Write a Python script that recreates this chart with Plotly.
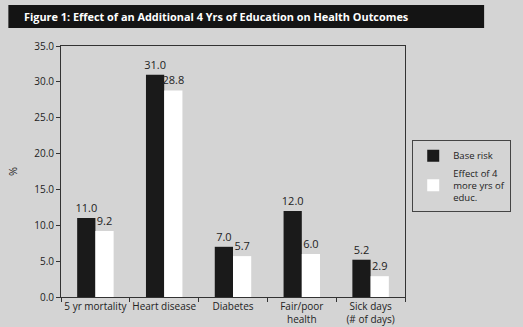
import plotly.graph_objects as go

categories = ["5 yr mortality", "Heart disease", "Diabetes", "Fair/poor<br>health", "Sick days<br>(# of days)"]
base_risk = [11.0, 31.0, 7.0, 12.0, 5.2]
effect = [9.2, 28.8, 5.7, 6.0, 2.9]
series_names = ["Base risk", "Effect of 4<br>more yrs of<br>educ."]
y_ticks = [0, 5, 10, 15, 20, 25, 30, 35]
title_text = "Figure 1: Effect of an Additional 4 Yrs of Education on Health Outcomes"

BG = "#d4d4d4"
FONT = "Open Sans"

fig = go.Figure()
fig.add_trace(go.Bar(x=categories, y=base_risk, name=series_names[0],
                     marker=dict(color="#1a1a1a", line=dict(width=0)),
                     text=[f"{v:.1f}" for v in base_risk], textposition="outside",
                     constraintext="none",
                     textfont=dict(size=11, color="#222", family=FONT), cliponaxis=False))
fig.add_trace(go.Bar(x=categories, y=effect, name=series_names[1],
                     marker=dict(color="#ffffff", line=dict(width=0)),
                     text=[f"{v:.1f}" for v in effect], textposition="outside",
                     constraintext="none",
                     textfont=dict(size=11, color="#222", family=FONT), cliponaxis=False))

fig.update_layout(
    width=523, height=327,
    margin=dict(l=61, r=84, t=46, b=30),
    paper_bgcolor=BG, plot_bgcolor=BG,
    font=dict(family=FONT, size=10, color="#222"),
    barmode="group", bargap=0.47, bargroupgap=0,
    uniformtext=dict(mode=False),
    showlegend=True,
    legend=dict(x=1.021, y=0.625, xanchor="left", yanchor="top",
                bgcolor=BG, bordercolor="#444", borderwidth=1,
                font=dict(size=9.5, family=FONT, color="#222"),
                itemwidth=30, tracegroupgap=2),
    xaxis=dict(showline=True, linecolor="#333", linewidth=1, mirror=True,
               ticks="outside", ticklen=4, tickcolor="#333", tickson="boundaries",
               tickangle=0, automargin=False,
               tickfont=dict(size=10, family=FONT, color="#222"), showgrid=False),
    yaxis=dict(range=[0, 35], tickvals=y_ticks, tickformat=".1f", automargin=False,
               showline=True, linecolor="#333", linewidth=1, mirror=True,
               ticks="outside", ticklen=4, tickcolor="#333", showgrid=False, zeroline=False,
               tickfont=dict(size=10, family=FONT, color="#222"),
               title=dict(text="%", font=dict(size=11, family=FONT, color="#222"), standoff=14)),
    shapes=[dict(type="rect", xref="paper", yref="paper",
                 x0=-0.153, x1=1.23, y0=1.072, y1=1.163,
                 fillcolor="#141414", line=dict(width=0), layer="above")],
    annotations=[dict(text="<b>" + title_text + "</b>", xref="paper", yref="paper",
                      x=-0.114, y=1.1175, xanchor="left", yanchor="middle", showarrow=False,
                      font=dict(size=10.9, family=FONT, color="#ffffff"))],
)

fig.write_html("out.html")
